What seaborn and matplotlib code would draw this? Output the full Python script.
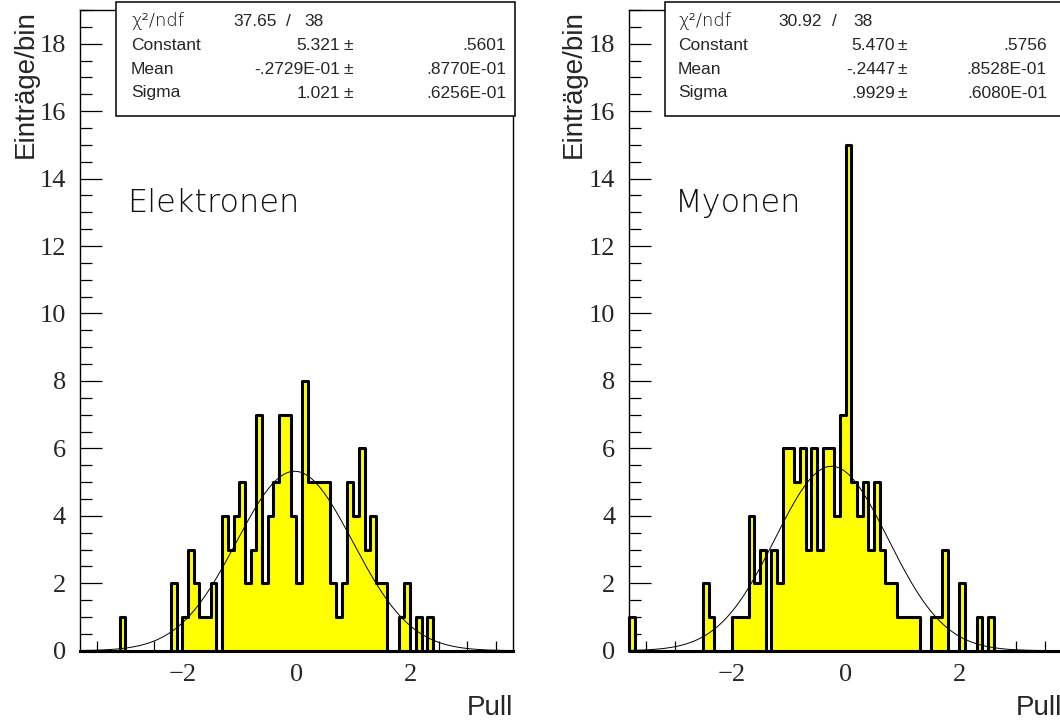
import numpy as np
import pandas as pd
import matplotlib
matplotlib.use("Agg")
import matplotlib.pyplot as plt
import seaborn as sns
from matplotlib.patches import Rectangle
from matplotlib.ticker import MultipleLocator

# Histogram binning: 76 bins of width 0.1 between -3.8 and 3.8
bin_lo, bin_hi, n_bins = -3.8, 3.8, 76

# Entries per bin
elektronen_counts = [
    0, 0, 0, 0, 0, 0, 0, 1, 0, 0, 0, 0, 0, 0, 0, 0, 2, 0, 1, 3,
    2, 1, 1, 2, 0, 4, 3, 4, 5, 2, 3, 7, 2, 4, 5, 7, 7, 4, 2, 8,
    5, 5, 5, 5, 2, 1, 2, 5, 4, 6, 3, 4, 2, 2, 0, 0, 1, 2, 0, 1,
    0, 1, 0, 0, 0, 0, 0, 0, 0, 0, 0, 0, 0, 0, 0, 0,
]
myonen_counts = [
    1, 0, 0, 0, 0, 0, 0, 0, 0, 0, 0, 0, 0, 2, 1, 0, 0, 0, 1, 1,
    1, 4, 2, 3, 0, 3, 2, 6, 6, 5, 6, 3, 6, 3, 6, 6, 4, 7, 15, 5,
    4, 5, 3, 5, 3, 2, 2, 1, 1, 1, 1, 0, 0, 1, 1, 3, 0, 0, 2, 0,
    0, 1, 0, 1, 0, 0, 0, 0, 0, 0, 0, 0, 0, 0, 0, 0,
]

# Gaussian fit results (value, error) as printed in the statistics box
panel_names = ["Elektronen", "Myonen"]
chi2_values = ["37.65", "30.92"]
ndf_values = ["38", "38"]
constant_values = [5.321, 5.470]
mean_values = [-0.02729, -0.2447]
sigma_values = [1.021, 0.9929]
constant_labels = [("5.321", ".5601"), ("5.470", ".5756")]
mean_labels = [("-.2729E-01", ".8770E-01"), ("-.2447", ".8528E-01")]
sigma_labels = [("1.021", ".6256E-01"), (".9929", ".6080E-01")]

sns.set_theme(style="white")
plt.rcParams["font.family"] = ["Liberation Sans", "DejaVu Sans"]

W, H = 1060, 721
fig = plt.figure(figsize=(W / 100, H / 100), dpi=100)
fig.patch.set_facecolor("white")


def fx(x):
    return x / W


def fy(y):
    return 1 - y / H


SANS = ["Liberation Sans", "DejaVu Sans"]
THIN = ["DejaVu Sans"]

bin_width = (bin_hi - bin_lo) / n_bins
centers = bin_lo + bin_width * (np.arange(n_bins) + 0.5)

ax_w, ax_top, ax_bottom = 433.0, 10.0, 650.7
layout = [
    dict(ax_left=79.7, box_left=116, lab_x=131, chi_x=233, slash_x=286, ndf_x=304,
         val_r=340, pm_x=343, err_r=506, ylab_x=26, title_x=127),
    dict(ax_left=629.0, box_left=665, lab_x=678, chi_x=778, slash_x=832, ndf_x=853,
         val_r=895, pm_x=898, err_r=1047, ylab_x=574, title_x=675),
]
all_counts = [elektronen_counts, myonen_counts]

for i, L in enumerate(layout):
    ax = fig.add_axes([fx(L["ax_left"]), fy(ax_bottom), ax_w / W, (ax_bottom - ax_top) / H])
    df = pd.DataFrame({"pull": centers, "n": all_counts[i]})
    sns.histplot(data=df, x="pull", weights="n", bins=n_bins, binrange=(bin_lo, bin_hi),
                 element="step", fill=True, color="#ffff00", alpha=1.0,
                 edgecolor="black", linewidth=2.2, ax=ax, zorder=2)
    for coll in ax.collections:
        coll.set_clip_on(False)

    xs = np.linspace(bin_lo, bin_hi, 600)
    ys = constant_values[i] * np.exp(-0.5 * ((xs - mean_values[i]) / sigma_values[i]) ** 2)
    sns.lineplot(x=xs, y=ys, color="black", linewidth=0.7, ax=ax, zorder=3)

    ax.set_xlim(bin_lo, bin_hi)
    ax.set_ylim(0, 19)
    ax.xaxis.set_major_locator(MultipleLocator(2))
    ax.xaxis.set_minor_locator(MultipleLocator(0.5))
    ax.yaxis.set_major_locator(MultipleLocator(2))
    ax.yaxis.set_minor_locator(MultipleLocator(0.5))
    ax.tick_params(axis="both", which="both", direction="in", color="black",
                   width=0.9, labelsize=19, labelfontfamily="Liberation Serif",
                   bottom=True, left=True, top=False, right=False)
    ax.tick_params(axis="y", which="major", length=15.8, pad=9.9)
    ax.tick_params(axis="y", which="minor", length=8.4)
    ax.tick_params(axis="x", which="major", length=15.8, pad=9.5)
    ax.tick_params(axis="x", which="minor", length=7.3)
    ax.set_xlabel("")
    ax.set_ylabel("")
    for sp in ax.spines.values():
        sp.set_visible(True)
        sp.set_color("black")
        sp.set_linewidth(1.0)
    ax.grid(False)

    # axis titles
    fig.text(fx(L["ylab_x"]), fy(ax_top), "Einträge/bin", rotation=90,
             ha="center", va="top", fontsize=20, family=SANS)
    fig.text(fx(L["ax_left"] + ax_w), fy(715), "Pull", ha="right",
             va="baseline", fontsize=20, family=SANS)

    # sample name
    fig.text(fx(L["title_x"]), fy(212), panel_names[i], ha="left", va="baseline",
             fontsize=23, family=THIN, fontweight="ultralight", color="#111111")

    # statistics box
    box = Rectangle((fx(L["box_left"]), fy(116)), fx(L["ax_left"] + ax_w + 2) - fx(L["box_left"]),
                    (116 - 2) / H, transform=fig.transFigure, facecolor="white",
                    edgecolor="black", linewidth=1.1, zorder=10, clip_on=False)
    fig.add_artist(box)

    fs = 12.5
    fig.text(fx(L["lab_x"]), fy(26), "χ²/ndf", ha="left", va="baseline",
             fontsize=13, family=THIN, fontweight="ultralight", color="#111111", zorder=11)
    fig.text(fx(L["chi_x"]), fy(26), chi2_values[i], ha="left", va="baseline",
             fontsize=fs, family=SANS, zorder=11)
    fig.text(fx(L["slash_x"]), fy(26), "/", ha="left", va="baseline",
             fontsize=fs, family=SANS, zorder=11)
    fig.text(fx(L["ndf_x"]), fy(26), ndf_values[i], ha="left", va="baseline",
             fontsize=fs, family=SANS, zorder=11)

    rows = [("Constant", constant_labels[i], 50),
            ("Mean", mean_labels[i], 74.5),
            ("Sigma", sigma_labels[i], 97.5)]
    for name, (val, err), yb in rows:
        fig.text(fx(L["lab_x"]), fy(yb), name, ha="left", va="baseline",
                 fontsize=fs, family=SANS, zorder=11)
        fig.text(fx(L["val_r"]), fy(yb), val, ha="right", va="baseline",
                 fontsize=fs, family=SANS, zorder=11)
        fig.text(fx(L["pm_x"]), fy(yb), "±", ha="left", va="baseline",
                 fontsize=fs, family=SANS, zorder=11)
        fig.text(fx(L["err_r"]), fy(yb), err, ha="right", va="baseline",
                 fontsize=fs, family=SANS, zorder=11)

fig.savefig("out.png", dpi=100, facecolor="white")
